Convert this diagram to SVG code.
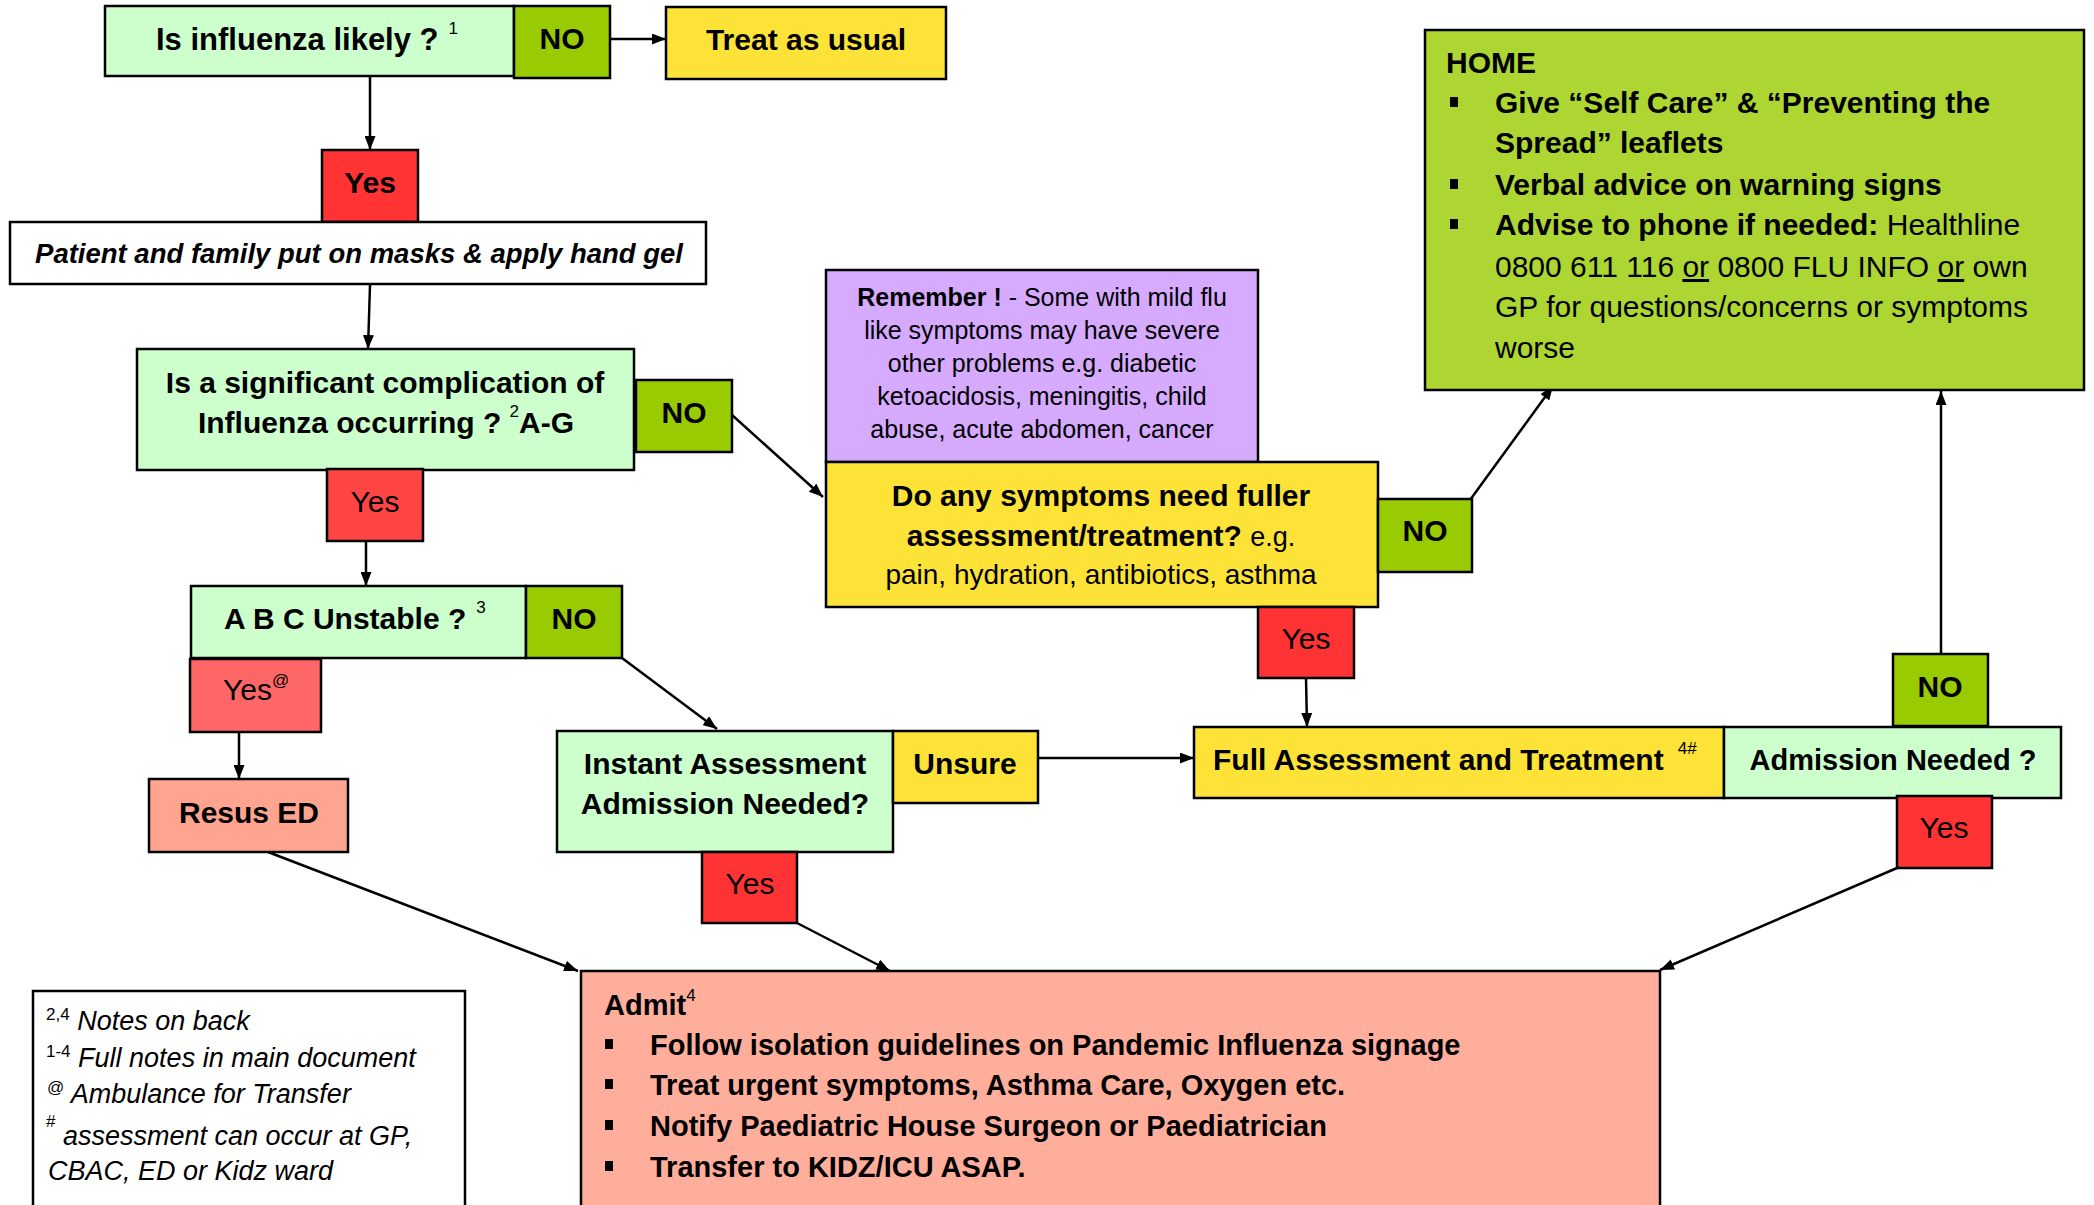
<svg xmlns="http://www.w3.org/2000/svg" width="2094" height="1205" viewBox="0 0 2094 1205">
<style>
text{font-family:"Liberation Sans",Arial,sans-serif;fill:#000}
.b{font-weight:bold}
.l{font-size:30px}
.m{font-size:29px}
.s{font-size:25px}
.c{text-anchor:middle}
.sup{font-size:17px;font-weight:normal;font-style:normal}
.n{stroke:#000;stroke-width:2.5}
.bul{fill:#000}
.lg{fill:#ccffcc}.ng{fill:#99cc00}.ye{fill:#fde338}.rd{fill:#ff3333}.rd2{fill:#ff4444}.rd3{fill:#ff6666}
.sal{fill:#ffa58f}.adm{fill:#ffae9c}.pu{fill:#d5aaff}.hm{fill:#add633}.wh{fill:#fff}
.con line{stroke:#000;stroke-width:2.5;marker-end:url(#ah)}
.nt{font-size:27px;font-style:italic}
</style>
<defs>
<marker id="ah" viewBox="0 0 14 11" refX="14" refY="5.5" markerWidth="14" markerHeight="11" markerUnits="userSpaceOnUse" orient="auto">
<path d="M0,0 L14,5.5 L0,11 z" fill="#000"/>
</marker>
</defs>
<rect width="2094" height="1205" fill="#fff"/>

<g class="con">
<line x1="610" y1="39" x2="666" y2="39"/>
<line x1="370" y1="77" x2="370" y2="150"/>
<line x1="370" y1="285" x2="368" y2="349"/>
<line x1="732" y1="415" x2="823" y2="497"/>
<line x1="366" y1="541" x2="366" y2="586"/>
<line x1="622" y1="658" x2="717" y2="729"/>
<line x1="239" y1="732" x2="239" y2="779"/>
<line x1="268" y1="852" x2="578" y2="971"/>
<line x1="797" y1="923" x2="890" y2="971"/>
<line x1="1038" y1="758" x2="1194" y2="758"/>
<line x1="1306" y1="678" x2="1307" y2="727"/>
<line x1="1470" y1="500" x2="1553" y2="386"/>
<line x1="1941" y1="654" x2="1941" y2="391"/>
<line x1="1897" y1="868" x2="1660" y2="970"/>
</g>

<g id="influenza">
<rect class="n lg" x="105" y="6" width="409" height="70"/>
<text class="b" style="font-size:31px" x="156" y="50">Is influenza likely ?<tspan class="sup" dx="10" dy="-16">1</tspan></text>
</g>
<g id="influenza-no">
<rect class="n ng" x="514" y="6" width="96" height="72"/>
<text class="b l c" x="562" y="49">NO</text>
</g>
<g id="treat">
<rect class="n ye" x="666" y="7" width="280" height="72"/>
<text class="b l c" x="806" y="50">Treat as usual</text>
</g>
<g id="yes1">
<rect class="n rd" x="322" y="150" width="96" height="72"/>
<text class="b l c" x="370" y="193">Yes</text>
</g>
<g id="patient">
<rect class="n wh" x="10" y="222" width="696" height="62"/>
<text class="b c" style="font-size:27.5px;font-style:italic" x="359" y="263">Patient and family put on masks &amp; apply hand gel</text>
</g>
<g id="complication">
<rect class="n lg" x="137" y="349" width="497" height="121"/>
<text class="b l c" x="385" y="393">Is a significant complication of</text>
<text class="b l c" x="386" y="433">Influenza occurring ? <tspan class="sup" dy="-16">2</tspan><tspan dy="16">A-G</tspan></text>
</g>
<g id="complication-no">
<rect class="n ng" x="636" y="380" width="96" height="72"/>
<text class="b l c" x="684" y="423">NO</text>
</g>
<g id="complication-yes">
<rect class="n rd2" x="327" y="469" width="96" height="72"/>
<text class="l c" x="375" y="512">Yes</text>
</g>
<g id="abc">
<rect class="n lg" x="191" y="586" width="335" height="72"/>
<text class="b l" x="224" y="629">A B C Unstable ?<tspan class="sup" dx="10" dy="-16">3</tspan></text>
</g>
<g id="abc-no">
<rect class="n ng" x="526" y="586" width="96" height="72"/>
<text class="b l c" x="574" y="629">NO</text>
</g>
<g id="abc-yes">
<rect class="n rd3" x="190" y="659" width="131" height="73"/>
<text class="l" x="223" y="700">Yes<tspan class="sup" dy="-14">@</tspan></text>
</g>
<g id="resus">
<rect class="n sal" x="149" y="779" width="199" height="73"/>
<text class="b l c" x="249" y="823">Resus ED</text>
</g>
<g id="instant">
<rect class="n lg" x="557" y="731" width="336" height="121"/>
<text class="b l c" x="725" y="774">Instant Assessment</text>
<text class="b l c" x="725" y="814">Admission Needed?</text>
</g>
<g id="unsure">
<rect class="n ye" x="893" y="731" width="145" height="72"/>
<text class="b l c" x="965" y="774">Unsure</text>
</g>
<g id="instant-yes">
<rect class="n rd" x="702" y="852" width="95" height="71"/>
<text class="l c" x="750" y="894">Yes</text>
</g>
<g id="remember">
<rect class="n pu" x="826" y="270" width="432" height="192"/>
<text class="s c" x="1042" y="306"><tspan class="b">Remember !</tspan> - Some with mild flu</text>
<text class="s c" x="1042" y="339">like symptoms may have severe</text>
<text class="s c" x="1042" y="372">other problems e.g. diabetic</text>
<text class="s c" x="1042" y="405">ketoacidosis, meningitis, child</text>
<text class="s c" x="1042" y="438">abuse, acute abdomen, cancer</text>
</g>
<g id="symptoms">
<rect class="n ye" x="826" y="462" width="552" height="145"/>
<text class="b c" style="font-size:30px" x="1101" y="506">Do any symptoms need fuller</text>
<text class="b c" style="font-size:30px" x="1101" y="546">assessment/treatment? <tspan style="font-size:27px" font-weight="normal">e.g.</tspan></text>
<text class="c" style="font-size:28px" x="1101" y="584">pain, hydration, antibiotics, asthma</text>
</g>
<g id="symptoms-no">
<rect class="n ng" x="1378" y="499" width="94" height="73"/>
<text class="b l c" x="1425" y="541">NO</text>
</g>
<g id="symptoms-yes">
<rect class="n rd" x="1258" y="607" width="96" height="71"/>
<text class="l c" x="1306" y="649">Yes</text>
</g>
<g id="full">
<rect class="n ye" x="1194" y="727" width="530" height="71"/>
<text class="b l" x="1213" y="770">Full Assessment and Treatment<tspan class="sup" dx="14" dy="-16">4#</tspan></text>
</g>
<g id="admission">
<rect class="n lg" x="1724" y="727" width="337" height="71"/>
<text class="b m c" x="1893" y="770">Admission Needed ?</text>
</g>
<g id="admission-no">
<rect class="n ng" x="1893" y="654" width="95" height="72"/>
<text class="b l c" x="1940" y="697">NO</text>
</g>
<g id="admission-yes">
<rect class="n rd" x="1897" y="796" width="95" height="72"/>
<text class="l c" x="1944" y="838">Yes</text>
</g>
<g id="home">
<rect class="n hm" x="1425" y="30" width="659" height="360"/>
<text class="b l" x="1446" y="73">HOME</text>
<rect class="bul" x="1450" y="97" width="8" height="10"/>
<text class="b l" x="1495" y="113">Give “Self Care” &amp; “Preventing the</text>
<text class="b l" x="1495" y="153">Spread” leaflets</text>
<rect class="bul" x="1450" y="179" width="8" height="10"/>
<text class="b l" x="1495" y="195">Verbal advice on warning signs</text>
<rect class="bul" x="1450" y="219" width="8" height="10"/>
<text class="l" x="1495" y="235"><tspan class="b">Advise to phone if needed:</tspan> Healthline</text>
<text class="l" x="1495" y="277">0800 611 116 <tspan text-decoration="underline">or</tspan> 0800 FLU INFO <tspan text-decoration="underline">or</tspan> own</text>
<text class="l" x="1495" y="317">GP for questions/concerns or symptoms</text>
<text class="l" x="1495" y="358">worse</text>
</g>
<g id="admit">
<rect class="n adm" x="581" y="971" width="1079" height="250"/>
<text class="b m" x="604" y="1015">Admit<tspan class="sup" dy="-14">4</tspan></text>
<rect class="bul" x="605" y="1039" width="8" height="10"/>
<text class="b m" x="650" y="1055">Follow isolation guidelines on Pandemic Influenza signage</text>
<rect class="bul" x="605" y="1079" width="8" height="10"/>
<text class="b m" x="650" y="1095">Treat urgent symptoms, Asthma Care, Oxygen etc.</text>
<rect class="bul" x="605" y="1120" width="8" height="10"/>
<text class="b m" x="650" y="1136">Notify Paediatric House Surgeon or Paediatrician</text>
<rect class="bul" x="605" y="1161" width="8" height="10"/>
<text class="b m" x="650" y="1177">Transfer to KIDZ/ICU ASAP.</text>
</g>
<g id="notes">
<rect class="n wh" x="33" y="991" width="432" height="230"/>
<text class="nt" x="46" y="1030"><tspan class="sup" dy="-10">2,4</tspan><tspan dy="10"> Notes on back</tspan></text>
<text class="nt" x="46" y="1067"><tspan class="sup" dy="-10">1-4</tspan><tspan dy="10"> Full notes in main document</tspan></text>
<text class="nt" x="47" y="1103"><tspan class="sup" dy="-10">@</tspan><tspan dy="10"> Ambulance for Transfer</tspan></text>
<text class="nt" x="46" y="1145"><tspan class="sup" dy="-18">#</tspan><tspan dy="18">  assessment can occur at GP,</tspan></text>
<text class="nt" x="48" y="1180">CBAC, ED or Kidz ward</text>
</g>
</svg>
